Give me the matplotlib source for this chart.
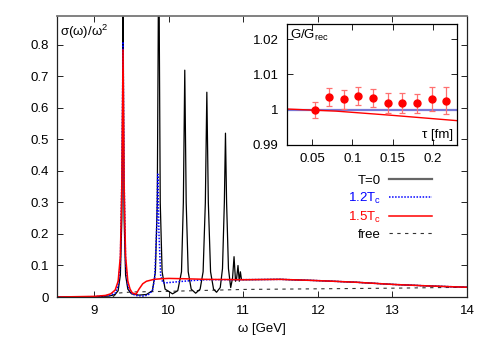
import matplotlib
matplotlib.use("Agg")
import matplotlib.pyplot as plt

plt.rcParams['font.family'] = ['Liberation Sans', 'DejaVu Sans']
plt.rcParams['mathtext.fontset'] = 'custom'
plt.rcParams['mathtext.rm'] = 'Liberation Sans'
plt.rcParams['mathtext.it'] = 'Liberation Sans'

# ---- main panel data ----
w_T0 = [8.5, 9.0, 9.2, 9.28, 9.32, 9.35, 9.37, 9.38, 9.386, 9.392, 9.40, 9.42, 9.45, 9.5, 9.6, 9.7,
        9.78, 9.82, 9.845, 9.857, 9.865, 9.873, 9.885, 9.91, 9.95, 10.05, 10.12, 10.17, 10.195,
        10.214, 10.233, 10.26, 10.3, 10.36, 10.42, 10.46, 10.49, 10.51, 10.53, 10.56, 10.6, 10.64,
        10.69, 10.72, 10.745, 10.76, 10.775, 10.8, 10.83, 10.855, 10.875, 10.895, 10.91, 10.928,
        10.945, 10.96, 10.975, 11.0, 11.5, 12.0, 12.5, 13.0, 13.5, 14.0]
s_T0 = [0.0, 0.001, 0.003, 0.008, 0.02, 0.07, 0.25, 0.6, 1.2, 0.6, 0.25, 0.07, 0.025, 0.01, 0.006, 0.008,
        0.02, 0.08, 0.3, 0.8, 1.2, 0.8, 0.3, 0.08, 0.025, 0.01, 0.02, 0.08, 0.3,
        0.72, 0.3, 0.08, 0.025, 0.012, 0.025, 0.08, 0.3, 0.65, 0.3, 0.08, 0.025, 0.015,
        0.03, 0.09, 0.3, 0.52, 0.3, 0.09, 0.03, 0.06, 0.128, 0.05, 0.06, 0.10,
        0.05, 0.08, 0.055, 0.055, 0.056, 0.052, 0.047, 0.040, 0.035, 0.031]

w_12 = [8.5, 9.0, 9.2, 9.28, 9.32, 9.35, 9.37, 9.386, 9.40, 9.42, 9.45, 9.5, 9.55, 9.65, 9.72,
        9.78, 9.81, 9.835, 9.852, 9.868, 9.89, 9.92, 9.96, 10.1, 10.3, 10.5, 10.8, 11.0, 11.5,
        12.0, 12.5, 13.0, 13.5, 14.0]
s_12 = [0.0, 0.001, 0.005, 0.012, 0.035, 0.11, 0.38, 0.81, 0.38, 0.11, 0.035, 0.012, 0.005, 0.003, 0.006,
        0.02, 0.06, 0.2, 0.39, 0.2, 0.07, 0.045, 0.045, 0.048, 0.052, 0.055, 0.055, 0.055, 0.056,
        0.052, 0.047, 0.040, 0.035, 0.031]

w_15 = [8.5, 9.0, 9.15, 9.22, 9.28, 9.32, 9.35, 9.37, 9.386, 9.40, 9.42, 9.45, 9.48, 9.51, 9.56,
        9.6, 9.65, 9.7, 9.8, 9.9, 10.0, 10.2, 10.5, 11.0, 11.5, 12.0, 12.5, 13.0, 13.5, 14.0]
s_15 = [0.0, 0.002, 0.005, 0.01, 0.022, 0.05, 0.13, 0.36, 0.785, 0.36, 0.13, 0.05, 0.025, 0.013, 0.009,
        0.025, 0.042, 0.05, 0.056, 0.058, 0.059, 0.058, 0.056, 0.055, 0.056, 0.052, 0.047, 0.040, 0.035, 0.031]

w_free = [9.25, 9.3, 9.5, 10.0, 10.5, 11.0, 12.0, 13.0, 14.0]
s_free = [0.0, 0.012, 0.016, 0.018, 0.021, 0.024, 0.026, 0.028, 0.031]

# ---- inset data ----
tau = [0.0537, 0.0711, 0.0897, 0.107, 0.1256, 0.1442, 0.1616, 0.180, 0.1988, 0.216]
ratio = [0.9999, 1.0036, 1.0030, 1.0039, 1.0034, 1.0018, 1.0019, 1.0018, 1.0030, 1.0026]
ratio_err = [0.0023, 0.0025, 0.0027, 0.0025, 0.0025, 0.0028, 0.0027, 0.0027, 0.0035, 0.0037]
tau_15 = [0.019, 0.08, 0.15, 0.23]
ratio_15 = [1.0002, 0.9996, 0.9984, 0.9969]
tau_12 = [0.019, 0.23]
ratio_12 = [1.0, 1.0]

fig = plt.figure(figsize=(4.91, 3.43), dpi=100)
ax = fig.add_axes([0.1161, 0.1341, 0.8350, 0.8193])
FS = 9.5

ax.plot(w_free, s_free, color='#333333', lw=0.8, dashes=(3, 4), label='free')
ax.plot(w_T0, s_T0, color='black', lw=0.9, label='T=0')
ax.plot(w_12, s_12, color='blue', lw=1.1, dashes=(1, 1), label='1.2T$_\\mathregular{c}$')
ax.plot(w_15, s_15, color='red', lw=1.1, label='1.5T$_\\mathregular{c}$')

ax.set_xlim(8.5, 14)
ax.set_ylim(0, 0.892)
ax.set_xticks([9, 10, 11, 12, 13, 14])
ax.set_yticks([0, 0.1, 0.2, 0.3, 0.4, 0.5, 0.6, 0.7, 0.8])
ax.set_yticklabels(['0', '0.1', '0.2', '0.3', '0.4', '0.5', '0.6', '0.7', '0.8'])
ax.tick_params(direction='in', top=True, right=True, labelsize=FS, length=4, width=0.6, pad=6)
for sp in ax.spines.values():
    sp.set_linewidth(0.9)
    sp.set_color('#222222')
ax.spines['top'].set_color('#777777')
ax.spines['top'].set_linewidth(1.3)
ax.set_xlabel('ω [GeV]', fontsize=FS, labelpad=4)
ax.text(0.008, 0.975, 'σ(ω)/ω$^\\mathregular{2}$', transform=ax.transAxes, fontsize=FS, va='top', ha='left')

handles, labels = ax.get_legend_handles_labels()
order = [1, 2, 3, 0]
leg = ax.legend([handles[i] for i in order], [labels[i] for i in order], loc='upper right',
                bbox_to_anchor=(0.915, 0.435), frameon=False, markerfirst=False, fontsize=FS,
                handlelength=3.3, handletextpad=0.6, labelspacing=0.28, borderaxespad=0,
                borderpad=0)
for t, c in zip(leg.get_texts(), ['black', 'blue', 'red', 'black']):
    t.set_color(c)
leg._legend_box.align = 'right'
for h in leg.legend_handles[:1]:
    h.set_color('#666666')
    h.set_linewidth(1.6)

# ---- inset ----
ins = fig.add_axes([0.5845, 0.5773, 0.3463, 0.3527])
ins.plot(tau_12, ratio_12, color='#7878d8', lw=1.6)
ins.plot(tau_15, ratio_15, color='red', lw=1.0)
ins.errorbar(tau, ratio, yerr=ratio_err, fmt='o', color='red', ms=5, ecolor='#ff7070',
             elinewidth=0.9, capsize=2.5, capthick=0.9)
ins.set_xlim(0.019, 0.230)
ins.set_ylim(0.99, 1.0243)
ins.set_xticks([0.05, 0.1, 0.15, 0.2])
ins.set_xticklabels(['0.05', '0.1', '0.15', '0.2'])
ins.set_yticks([0.99, 1.0, 1.01, 1.02])
ins.set_yticklabels(['0.99', '1', '1.01', '1.02'])
ins.tick_params(direction='in', top=True, right=True, labelsize=FS, length=4, width=0.6, pad=6)
for sp in ins.spines.values():
    sp.set_linewidth(0.9)
ins.text(0.015, 0.965, 'G/G$_\\mathregular{rec}$', transform=ins.transAxes, fontsize=FS, va='top', ha='left')
ins.text(0.975, 0.03, 'τ [fm]', transform=ins.transAxes, fontsize=FS, va='bottom', ha='right')

fig.savefig('out.png', dpi=100)
